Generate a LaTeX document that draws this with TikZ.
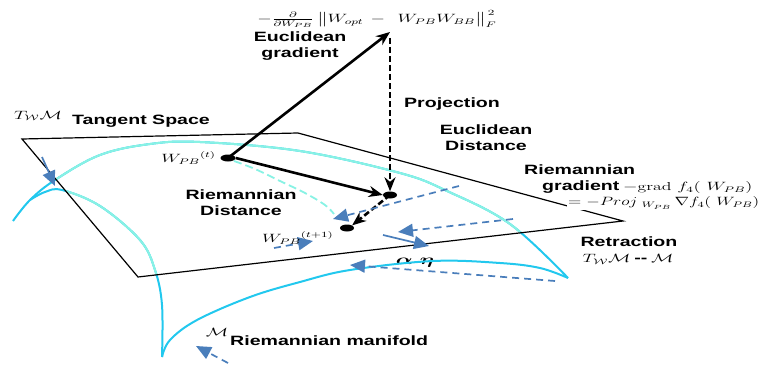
\documentclass[tikz,border=0pt]{standalone}
\usepackage{fontspec}
\usepackage{amsmath}
\usepackage{graphicx}
\usetikzlibrary{arrows.meta,shapes.geometric}
\newfontfamily\bsf[FakeStretch=1.45]{Liberation Sans}
\newcommand\mth[1]{\scalebox{1.55}[1]{$#1$}}
\newcommand\mthn[1]{\scalebox{1.45}[1]{$#1$}}
\definecolor{cyanD}{HTML}{22C8EE}
\definecolor{cyanL}{HTML}{88F2E4}
\definecolor{blueA}{HTML}{4A7EBB}
\begin{document}
\begin{tikzpicture}[x=1pt,y=-1pt,
  plane/.style={draw=black, line width=1.2pt, line join=miter},
  mdark/.style={draw=cyanD, line width=2pt},
  mlight/.style={draw=cyanL, line width=2pt},
  barrow/.style={draw=black, line width=2.6pt, -{Stealth[length=14pt,width=11pt]}},
  bdash/.style={barrow, dash pattern=on 6pt off 3pt},
  blarrow/.style={draw=blueA, line width=1.7pt, -{Triangle[length=15pt,width=13pt]}},
  bldash/.style={blarrow, dash pattern=on 7pt off 5pt},
  dot/.style={ellipse, fill=black, minimum width=14pt, minimum height=7pt, inner sep=0pt},
  lbl/.style={font=\bsf\bfseries\fontsize{13.5}{16}\selectfont, align=center, inner sep=0pt},
  mt/.style={font=\fontsize{11.5}{13}\selectfont, inner sep=0pt}]
\useasboundingbox (0,0) rectangle (771,369);

% alpha eta (under manifold curve)
\node[mt, font=\fontsize{14}{16}\selectfont] (ae) at (415,263) {\mth{\boldsymbol{\alpha\ \eta}}};

% manifold curves
\def\outer{plot[smooth, tension=0.6] coordinates {(13,221) (30,200) (55,180) (100,155) (150,144) (200,142) (300,151) (400,173) (447,191) (510,224) (568,278)}}
\def\inner{plot[smooth, tension=0.6] coordinates {(30,200) (45,192) (62,190) (100,206) (140,240) (155,270) (162,305) (162,357)}}
\def\bottom{plot[smooth, tension=0.6] coordinates {(162,357) (170,340) (197,320) (250,297) (300,282) (350,270) (433,261) (500,263) (540,268) (568,278)}}
\draw[mdark] \outer;
\draw[mdark] \inner;
\draw[mdark] \bottom;
\begin{scope}
  \clip (22,139) -- (298,133) -- (623,221) -- (138,277) -- cycle;
  \draw[mlight] \outer;
  \draw[mlight] \inner;
\end{scope}

% tangent plane
\coordinate (p1) at (22,139);
\coordinate (p2) at (298,133);
\coordinate (p3) at (623,221);
\coordinate (p4) at (138,277);
\draw[plane] (p1) -- (p2) -- (p3) -- (p4) -- cycle;

% points
\node[dot, minimum width=15pt] (wt) at (228,158) {};
\node[dot] (q) at (390,195) {};
\node[dot] (wt1) at (347,228) {};
\coordinate (top) at (390,32);
\coordinate (topd) at (390,38);

% Riemannian distance (dashed cyan)
\draw[cyanL, line width=1.8pt, dash pattern=on 8pt off 4pt]
  plot[smooth, tension=0.6] coordinates {(234,161) (255,169) (280,181) (305,193) (325,205) (334,214)};

% black arrows
\draw[barrow] (wt.center) -- (top);
\draw[bdash] (topd) -- (q.north);
\draw[barrow] (wt.east) -- (q.west);
\draw[bdash] (q.center) -- (wt1.north east);

% blue arrows
\coordinate (a1s) at (42,157); \coordinate (a1e) at (55,186);
\coordinate (a2s) at (459,186); \coordinate (a2e) at (333,219);
\coordinate (a3s) at (513,219); \coordinate (a3e) at (398,232);
\coordinate (a4s) at (383,235); \coordinate (a4e) at (429,246);
\coordinate (a5s) at (555,281); \coordinate (a5e) at (350,265);
\coordinate (a6s) at (274,248); \coordinate (a6e) at (313,241);
\coordinate (a7s) at (228,363); \coordinate (a7e) at (196,346);
\draw[blarrow] (a1s) -- (a1e);
\draw[bldash] (a2s) -- (a2e);
\draw[bldash] (a3s) -- (a3e);
\draw[blarrow] (a4s) -- (a4e);
\draw[bldash] (a5s) -- (a5e);
\draw[bldash] (a6s) -- (a6e);
\draw[bldash] (a7s) -- (a7e);

% texts
\node[mt] (frm) at (377,19) {\mth{-\frac{\partial}{\partial W_{PB}}\,\big\|W_{opt}\,-\;\,W_{PB}W_{BB}\big\|_F^{\,2}}};
\node[lbl] (eg) at (300,46) {Euclidean\\gradient};
\node[lbl] (proj) at (452,104) {Projection};
\node[lbl] (ed) at (486,138) {Euclidean\\Distance};
\node[mt] (tm) at (38,116) {\mth{T_{\mathcal{W}}\mathcal{M}}};
\node[lbl] (ts) at (141,121) {Tangent Space};
\node[mt, anchor=east] (lwt) at (216,158) {\mth{W_{PB}{}^{(t)}}};
\node[lbl] (rd) at (241,203) {Riemannian\\Distance};
\node[mt, anchor=west] (lwt1) at (262,238) {\mth{W_{PB}{}^{(t+1)}}};
\node[lbl, anchor=west] (rg1) at (524,170) {Riemannian};
\node[mt, anchor=west] (rg2) at (542,187) {{\bsf\bfseries\fontsize{13.5}{16}\selectfont gradient} \mth{-\mathrm{grad}\ f_4(\ W_{PB})}};
\node[mt, anchor=west, fill=white, inner sep=1pt] (rg3) at (567,203) {\mthn{=-Proj_{\ W_{PB}}\,\nabla f_4(\ W_{PB})}};
\node[lbl] (ret) at (629,242) {Retraction};
\node[mt] (ret2) at (628,259) {\mth{T_{\mathcal{W}}\mathcal{M}} {\bsf\bfseries\fontsize{13.5}{16}\selectfont -{}-} \mth{\mathcal{M}}};
\node[mt] (mm) at (217,332) {\mth{\mathcal{M}}};
\node[lbl, anchor=west] (rm) at (230,341) {Riemannian manifold};
\end{tikzpicture}
\end{document}
